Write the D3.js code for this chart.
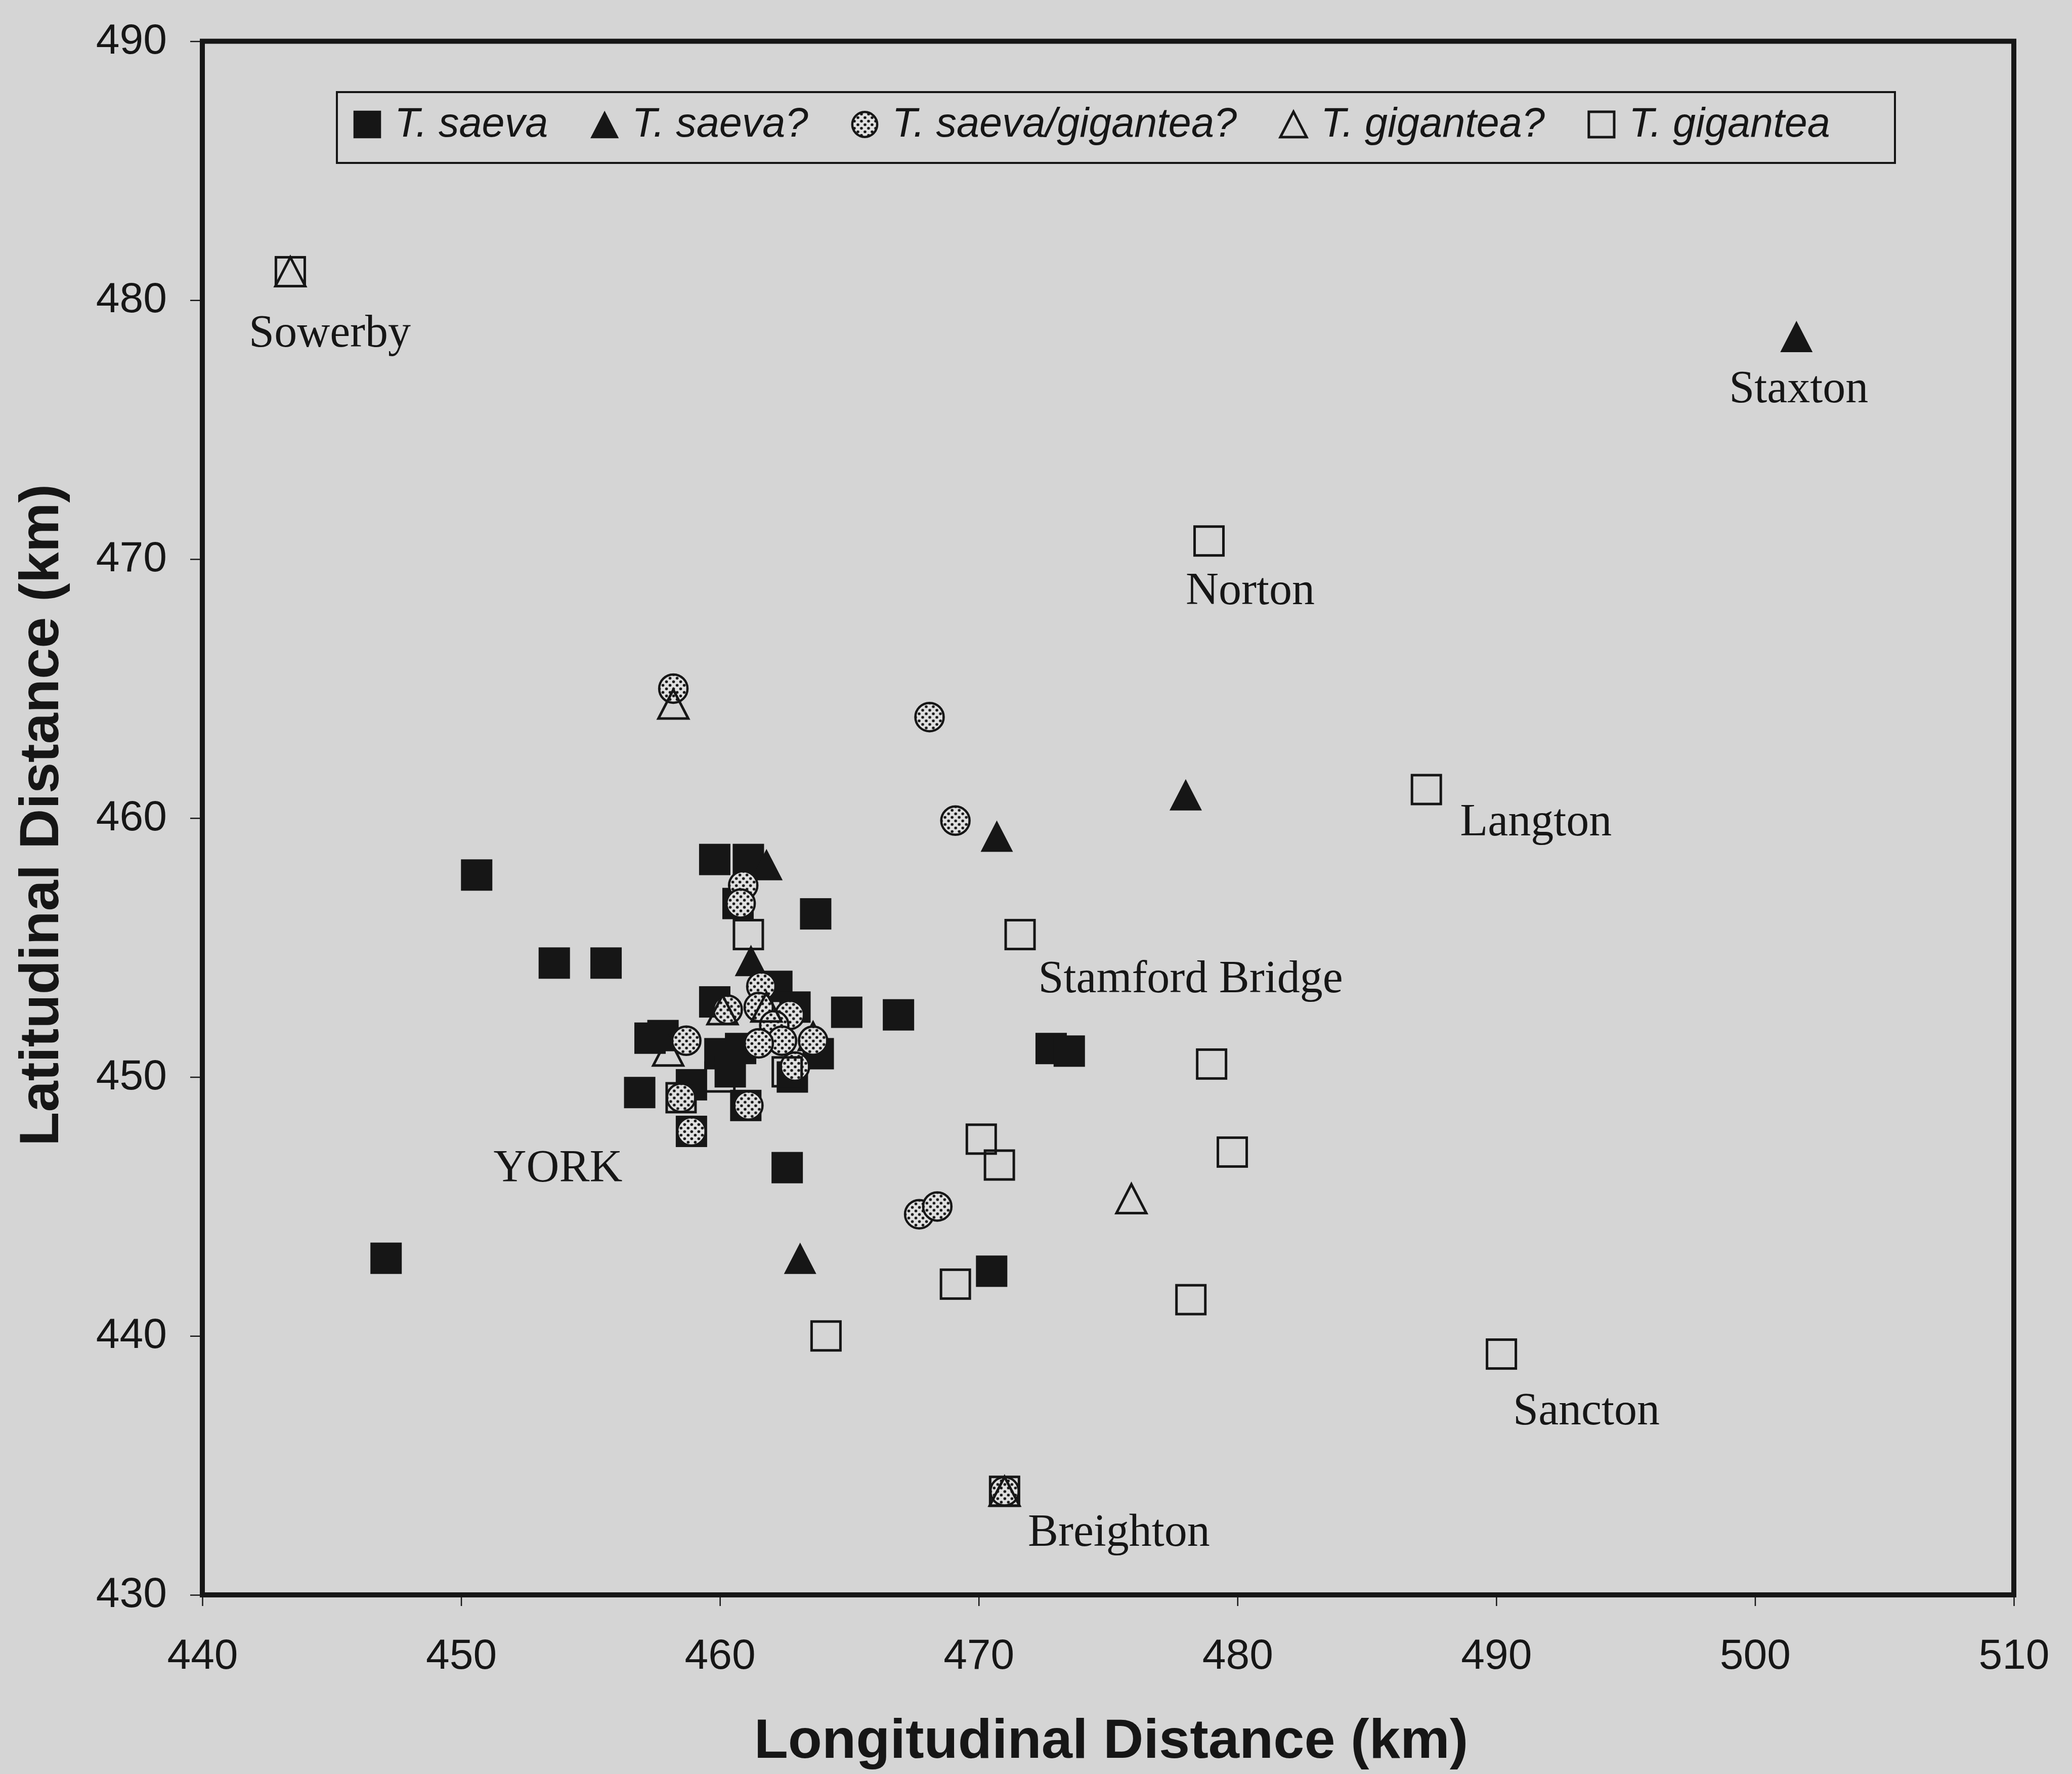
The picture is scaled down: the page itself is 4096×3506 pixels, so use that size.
<!DOCTYPE html>
<html>
<head>
<meta charset="utf-8">
<script src="https://cdn.jsdelivr.net/npm/d3@7"></script>
<style>
  html, body { margin: 0; padding: 0; background: #d5d5d5; }
  svg { display: block; }
</style>
</head>
<body>
<div id="chart"></div>
<script>
// Tick values for both axes (km)
const xTicks = [440, 450, 460, 470, 480, 490, 500, 510];
const yTicks = [430, 440, 450, 460, 470, 480, 490];

// Series names, in legend order
const seriesNames = ["T. saeva", "T. saeva?", "T. saeva/gigantea?", "T. gigantea?", "T. gigantea"];

// [longitudinal km, latitudinal km] for each record
const saeva = [
  [447.1, 443.0], [450.6, 457.8], [453.6, 454.4], [455.6, 454.4],
  [456.9, 449.4], [457.3, 451.5], [457.8, 451.6], [458.9, 449.7],
  [458.9, 447.9], [459.8, 458.4], [461.1, 458.4], [460.7, 456.7],
  [463.7, 456.3], [462.2, 453.5], [459.8, 452.9], [460.0, 450.9],
  [460.8, 451.1], [460.4, 450.2], [461.0, 448.9], [462.9, 452.7],
  [463.8, 450.9], [462.8, 450.0], [464.9, 452.5], [466.9, 452.4],
  [462.6, 446.5], [472.8, 451.1], [473.5, 451.0], [470.5, 442.5]
];
const saevaQ = [
  [501.6, 478.6], [478.0, 460.9], [470.7, 459.3], [463.1, 443.0],
  [461.8, 458.2], [461.2, 454.5], [463.6, 451.6]
];
const saevaGigantea = [
  [458.2, 465.0], [468.1, 463.9], [469.1, 459.9], [467.7, 444.7],
  [468.4, 445.0], [460.9, 457.4], [460.8, 456.7], [461.6, 453.5],
  [460.3, 452.6], [461.5, 452.7], [462.7, 452.4], [462.1, 452.0],
  [462.4, 451.4], [461.5, 451.3], [463.6, 451.4], [462.9, 450.4],
  [458.7, 451.4], [458.5, 449.2], [461.1, 448.9], [458.9, 447.9],
  [471.0, 434.0]
];
const giganteaQ = [
  [443.4, 481.1], [458.2, 464.4], [475.9, 445.3], [458.0, 451.0],
  [460.1, 452.6], [461.8, 452.7], [471.0, 434.0]
];
const gigantea = [
  [443.4, 481.1], [478.9, 470.7], [487.3, 461.1], [461.1, 455.5],
  [471.6, 455.5], [479.0, 450.5], [470.1, 447.6], [470.8, 446.6],
  [479.8, 447.1], [469.1, 442.0], [478.2, 441.4], [464.1, 440.0],
  [490.2, 439.3], [471.0, 434.0], [458.5, 449.2], [460.0, 450.0],
  [462.6, 450.2]
];

// Place names, anchored (left edge, baseline) in km
const placeNames = ["Sowerby", "Staxton", "Norton", "Langton", "Stamford Bridge", "YORK", "Sancton", "Breighton"];
const placeLon = [441.8, 499.0, 478.0, 488.6, 472.3, 451.25, 490.65, 471.9];
const placeLat = [478.2, 476.05, 468.27, 459.33, 453.27, 445.97, 436.58, 431.9];

const W = 4096, H = 3506;
const plot = { left: 400, right: 3981, top: 81.5, bottom: 3152 };
const ink = "#161616";
const bg = "#d5d5d5";

const svg = d3.select("#chart").append("svg")
  .attr("width", W).attr("height", H)
  .attr("viewBox", `0 0 ${W} ${H}`);

svg.append("rect").attr("width", W).attr("height", H).attr("fill", bg);

// Dotted fill used by the saeva/gigantea? markers
const defs = svg.append("defs");
const pat = defs.append("pattern")
  .attr("id", "dots").attr("patternUnits", "userSpaceOnUse")
  .attr("width", 14).attr("height", 14)
  .attr("x", -3).attr("y", -3);
pat.append("rect").attr("width", 14).attr("height", 14).attr("fill", "#e0e0e0");
pat.append("circle").attr("cx", 3.5).attr("cy", 3.5).attr("r", 2.8).attr("fill", ink);
pat.append("circle").attr("cx", 10.5).attr("cy", 10.5).attr("r", 2.8).attr("fill", ink);

const x = d3.scaleLinear().domain([440, 510]).range([plot.left, plot.right]);
const y = d3.scaleLinear().domain([430, 490]).range([plot.bottom, plot.top]);

// Axes
const fontSans = "'Liberation Sans', Arial, sans-serif";
const fontSerif = "'Liberation Serif', 'Times New Roman', serif";

const xAxis = svg.append("g")
  .attr("transform", `translate(0,${plot.bottom})`)
  .call(d3.axisBottom(x).tickValues(xTicks).tickFormat(d3.format("d"))
    .tickSizeInner(22).tickSizeOuter(0).tickPadding(64));
const yAxis = svg.append("g")
  .attr("transform", `translate(${plot.left},0)`)
  .call(d3.axisLeft(y).tickValues(yTicks).tickFormat(d3.format("d"))
    .tickSizeInner(24).tickSizeOuter(0).tickPadding(46));

[xAxis, yAxis].forEach(g => {
  g.select(".domain").remove();
  g.selectAll(".tick line").attr("stroke", ink).attr("stroke-width", 2.5);
  g.selectAll(".tick text")
    .attr("fill", ink)
    .style("font-family", fontSans)
    .style("font-size", "84px");
});
yAxis.selectAll(".tick text").attr("dy", "0.28em");

// Plot frame
svg.append("rect")
  .attr("x", plot.left).attr("y", plot.top)
  .attr("width", plot.right - plot.left).attr("height", plot.bottom - plot.top)
  .attr("fill", "none").attr("stroke", ink).attr("stroke-width", 10);

// Axis titles
svg.append("text")
  .attr("x", (plot.left + plot.right) / 2 + 6).attr("y", 3474)
  .attr("text-anchor", "middle")
  .attr("fill", ink)
  .style("font-family", fontSans).style("font-weight", "bold").style("font-size", "110px")
  .text("Longitudinal Distance (km)");
svg.append("text")
  .attr("transform", `translate(115,${(plot.top + plot.bottom) / 2 - 6}) rotate(-90)`)
  .attr("text-anchor", "middle")
  .attr("fill", ink)
  .style("font-family", fontSans).style("font-weight", "bold").style("font-size", "110px")
  .text("Latitudinal Distance (km)");

// Marker shapes
const SQ = 62, TRI_W = 64, TRI_H = 62, CIR_R = 28;
function drawMarker(g, kind, s) {
  s = s || 1;
  if (kind === "saeva") {
    g.append("rect").attr("x", -SQ * s / 2).attr("y", -SQ * s / 2)
      .attr("width", SQ * s).attr("height", SQ * s).attr("fill", ink);
  } else if (kind === "saevaQ") {
    g.append("path")
      .attr("d", `M0,${-TRI_H * s / 2}L${TRI_W * s / 2},${TRI_H * s / 2}L${-TRI_W * s / 2},${TRI_H * s / 2}Z`)
      .attr("fill", ink);
  } else if (kind === "mixed") {
    g.append("circle").attr("r", CIR_R * s)
      .attr("fill", "url(#dots)").attr("stroke", ink).attr("stroke-width", 4.5);
  } else if (kind === "giganteaQ") {
    const w = (TRI_W - 5) * s, h = (TRI_H - 5) * s;
    g.append("path")
      .attr("d", `M0,${-h / 2}L${w / 2},${h / 2}L${-w / 2},${h / 2}Z`)
      .attr("fill", "none").attr("stroke", ink).attr("stroke-width", 5)
      .attr("stroke-linejoin", "miter");
  } else {
    const a = (SQ - 5) * s;
    g.append("rect").attr("x", -a / 2).attr("y", -a / 2)
      .attr("width", a).attr("height", a)
      .attr("fill", "none").attr("stroke", ink).attr("stroke-width", 5);
  }
}

const series = [
  { kind: "saeva", data: saeva },
  { kind: "saevaQ", data: saevaQ },
  { kind: "mixed", data: saevaGigantea },
  { kind: "giganteaQ", data: giganteaQ },
  { kind: "gigantea", data: gigantea }
];

const marks = svg.append("g");
series.forEach(sr => {
  marks.append("g").attr("class", sr.kind)
    .selectAll("g").data(sr.data).join("g")
    .attr("transform", d => `translate(${x(d[0])},${y(d[1])})`)
    .each(function () { drawMarker(d3.select(this), sr.kind); });
});

// Place labels
svg.append("g").selectAll("text").data(placeNames).join("text")
  .attr("x", (d, i) => x(placeLon[i]))
  .attr("y", (d, i) => y(placeLat[i]))
  .attr("fill", ink)
  .style("font-family", fontSerif).style("font-size", "90px")
  .text(d => d);

// Legend
const legend = svg.append("g");
const legBox = { x: 666, y: 182, w: 3080, h: 140 };
legend.append("rect")
  .attr("x", legBox.x).attr("y", legBox.y).attr("width", legBox.w).attr("height", legBox.h)
  .attr("fill", bg).attr("stroke", ink).attr("stroke-width", 4);

let cx = 726;
const legY = 246, textBase = 270;
series.forEach((sr, i) => {
  const g = legend.append("g").attr("transform", `translate(${cx},${legY})`);
  drawMarker(g, sr.kind, 0.88);
  const t = legend.append("text")
    .attr("x", cx + 54).attr("y", textBase)
    .attr("fill", ink)
    .style("font-family", fontSans).style("font-style", "italic").style("font-size", "81px")
    .text(seriesNames[i]);
  cx = cx + 54 + t.node().getComputedTextLength() + 112;
});
</script>
</body>
</html>
